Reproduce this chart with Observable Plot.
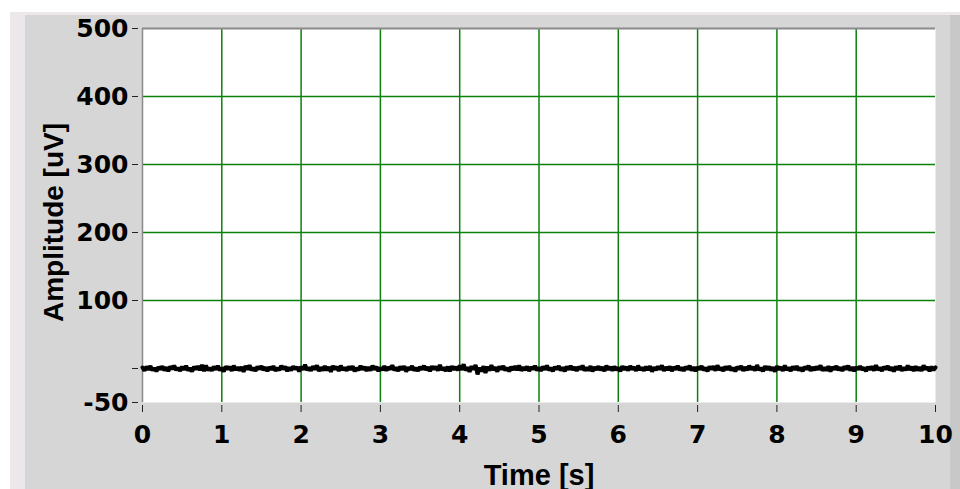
<!DOCTYPE html>
<html>
<head>
<meta charset="utf-8">
<script src="https://cdn.jsdelivr.net/npm/d3@7"></script>
<script src="https://cdn.jsdelivr.net/npm/@observablehq/plot@0.6"></script>
<style>
  html, body { margin: 0; padding: 0; background: #ffffff; width: 960px; height: 489px; overflow: hidden; }
  #wrap { position: relative; width: 960px; height: 489px; }
  .bg { position: absolute; }
  #panel { left: 10px; top: 12px; width: 950px; height: 477px; background: #d6d6d6; }
  #ltop { left: 10px; top: 12px; width: 950px; height: 3px; background: #ebe7eb; }
  #lleft { left: 10px; top: 12px; width: 15px; height: 477px; background: #ebe7eb; }
  #rdark { left: 950px; top: 15px; width: 10px; height: 474px; background: #c8c8c8; }
  #chart { position: absolute; left: 0; top: 0; }
</style>
</head>
<body>
<div id="wrap">
  <div class="bg" id="panel"></div>
  <div class="bg" id="ltop"></div>
  <div class="bg" id="lleft"></div>
  <div class="bg" id="rdark"></div>
  <div id="chart"></div>
</div>
<script>
// ---- data ----
const xTicks = [0, 1, 2, 3, 4, 5, 6, 7, 8, 9, 10];
const yTicks = [500, 400, 300, 200, 100, 0, -50];
const xGridLines = [1, 2, 3, 4, 5, 6, 7, 8, 9];
const yGridLines = [100, 200, 300, 400];
const xLabel = "Time [s]";
const yLabel = "Amplitude [uV]";
const timeStep = 0.025; // s between samples
const amplitude = [
  1.5, -3.2, 2.8, -1.9, 3.6, -2.7, 0.9, -4.1, 2.2, -1.4,
  3.1, -2.6, 1.7, -3.8, 2.9, -0.8, 4.2, -2.3, 1.1, -3.5,
  2.6, -1.8, 3.9, -2.9, 0.6, -4.4, 2.4, -1.2, 3.3, -2.1,
  5.2, -3.7, 4.5, -2.5, 0.7, -3.1, 2.7, -1.6, 3.8, -2.8,
  1.3, -4.6, 3.0, -0.9, 2.5, -3.4, 4.1, -2.0, 1.6, -3.0,
  2.3, -4.8, 3.7, -1.5, 4.8, -2.4, 1.0, -3.6, 2.8, -1.1,
  3.4, -2.2, 1.8, -4.0, 2.1, -1.7, 3.5, -3.3, 0.8, -2.6,
  4.0, -1.3, 2.9, -3.9, 1.4, -2.8, 3.2, -0.7, 2.0, -4.3,
  2.7, -1.9, 5.6, -2.4, 1.2, -3.2, 3.0, -1.5, 4.4, -3.6,
  1.7, -2.9, 3.6, -2.7, 2.2, -4.9, 3.8, -1.0, 2.5, -3.6,
  4.3, -2.1, 1.5, -3.0, 2.8, -1.8, 3.3, -4.2, 0.9, -2.5,
  3.9, -1.4, 2.4, -3.4, 1.9, -2.9, 4.1, -1.6, 2.6, -3.8,
  1.1, -2.3, 3.5, -3.1, 2.0, -1.2, 4.6, -2.6, 1.4, -3.7,
  2.9, -1.7, 3.2, -4.5, 1.6, -2.0, 3.7, -2.8, 0.8, -3.3,
  2.3, -1.5, 4.0, -2.2, 1.8, -3.9, 3.1, -1.1, 2.7, -3.0,
  5.4, -2.4, 1.3, -3.5, 2.6, -4.1, 3.4, -1.3, 2.1, -2.7,
  4.4, -2.0, 6.2, -2.7, 1.9, -4.8, 3.5, -1.6, 5.1, -8.7,
  1.2, -3.9, 3.1, -6.4, 2.6, -3.0, 4.7, -2.2, 1.8, -4.5,
  2.9, -1.3, 3.7, -2.8, 1.0, -4.2, 2.5, -1.9, 3.3, -2.4,
  4.5, -3.1, 1.6, -2.2, 3.0, -3.7, 2.1, -1.0, 3.8, -2.9,
  1.6, -3.4, 2.7, -1.7, 4.2, -2.5, 0.9, -3.8, 2.3, -1.2,
  3.6, -2.7, 1.4, -4.0, 2.8, -1.5, 3.9, -2.0, 1.7, -3.3,
  2.5, -1.1, 4.3, -3.0, 1.2, -2.6, 3.4, -4.1, 2.0, -1.8,
  3.1, -2.3, 1.8, -3.6, 4.0, -1.4, 2.2, -3.0, 2.9, -2.1,
  1.3, -4.3, 3.5, -1.6, 2.4, -2.8, 3.7, -1.2, 1.9, -3.5,
  4.1, -2.2, 1.1, -3.1, 2.6, -1.9, 3.3, -4.4, 1.5, -2.4,
  2.8, -1.3, 4.4, -3.2, 1.7, -2.0, 3.0, -3.8, 2.2, -1.6,
  3.9, -2.6, 1.4, -3.4, 2.5, -1.0, 4.2, -2.9, 1.8, -3.7,
  2.1, -1.7, 3.6, -2.3, 1.0, -4.0, 2.7, -1.4, 3.2, -3.0,
  4.6, -2.1, 1.6, -3.6, 2.9, -1.8, 3.4, -2.7, 1.3, -4.2,
  2.4, -1.1, 3.8, -3.3, 1.9, -2.5, 4.0, -1.5, 2.3, -3.1,
  5.0, -2.4, 1.2, -3.9, 3.1, -1.6, 2.6, -2.8, 1.7, -4.6,
  3.3, -1.3, 2.0, -3.2, 4.3, -2.2, 1.5, -3.7, 2.8, -1.9,
  3.5, -2.6, 1.1, -4.1, 2.4, -1.2, 3.9, -3.4, 1.8, -2.3,
  2.7, -1.5, 4.5, -3.0, 1.4, -2.7, 3.2, -4.3, 2.1, -1.7,
  3.7, -2.5, 1.6, -3.5, 2.9, -1.0, 4.1, -2.9, 1.9, -3.8,
  2.2, -1.4, 3.4, -2.1, 1.2, -4.0, 2.6, -1.8, 3.0, -3.2,
  4.7, -2.3, 1.5, -3.6, 2.5, -1.3, 3.6, -2.6, 1.7, -4.4,
  2.8, -1.6, 3.9, -3.1, 1.3, -2.4, 4.2, -1.9, 2.3, -3.5,
  3.1, -2.8, 1.9, -3.3, 4.4, -1.2, 2.0, -3.9, 2.7, -2.2,
  1.6
];
// --------------------------------------

const signal = amplitude.map((v, i) => ({t: i * timeStep, v}));
const tickFont = "DejaVu Sans, sans-serif";
const labelFont = "Liberation Sans, Arial, sans-serif";
const green = "#0b800b";

const chart = Plot.plot({
  width: 960,
  height: 489,
  marginLeft: 142,
  marginRight: 25,
  marginTop: 28,
  marginBottom: 87,
  style: {background: "transparent", overflow: "visible", color: "black"},
  x: {domain: [0, 10]},
  y: {domain: [-50, 500]},
  marks: [
    Plot.frame({fill: "white", stroke: "none"}),
    Plot.gridX(xGridLines, {stroke: green, strokeOpacity: 1, strokeWidth: 1.5}),
    Plot.gridY(yGridLines, {stroke: green, strokeOpacity: 1, strokeWidth: 1.5}),
    Plot.ruleX([0], {stroke: "#8a8a8a", strokeWidth: 1.5}),
    Plot.ruleY([500], {stroke: "#8a8a8a", strokeWidth: 2}),
    Plot.line(signal, {x: "t", y: "v", stroke: "black", strokeWidth: 4, strokeLinejoin: "miter"}),
    Plot.axisX(xTicks, {
      tickSize: 7, tickPadding: 13, dy: 3,
      tickFormat: d => String(d), label: null,
      fontFamily: tickFont, fontSize: 25, fontWeight: "bold", stroke: "#222"
    }),
    Plot.axisX([], {
      label: xLabel, labelAnchor: "center", labelOffset: 82, labelArrow: "none",
      fontFamily: labelFont, fontSize: 29, fontWeight: "bold"
    }),
    Plot.axisY(yTicks, {
      tickSize: 6, tickPadding: 4, dx: -4,
      tickFormat: d => d === 0 ? "" : String(d), label: null,
      fontFamily: tickFont, fontSize: 25, fontWeight: "bold", stroke: "#222"
    }),
    Plot.text([yLabel], {
      text: d => d, frameAnchor: "left", rotate: -90, dx: -88, dy: 7,
      lineAnchor: "middle", textAnchor: "middle",
      fontFamily: labelFont, fontSize: 28, fontWeight: "bold", fill: "black"
    })
  ]
});
document.getElementById("chart").appendChild(chart);
</script>
</body>
</html>
